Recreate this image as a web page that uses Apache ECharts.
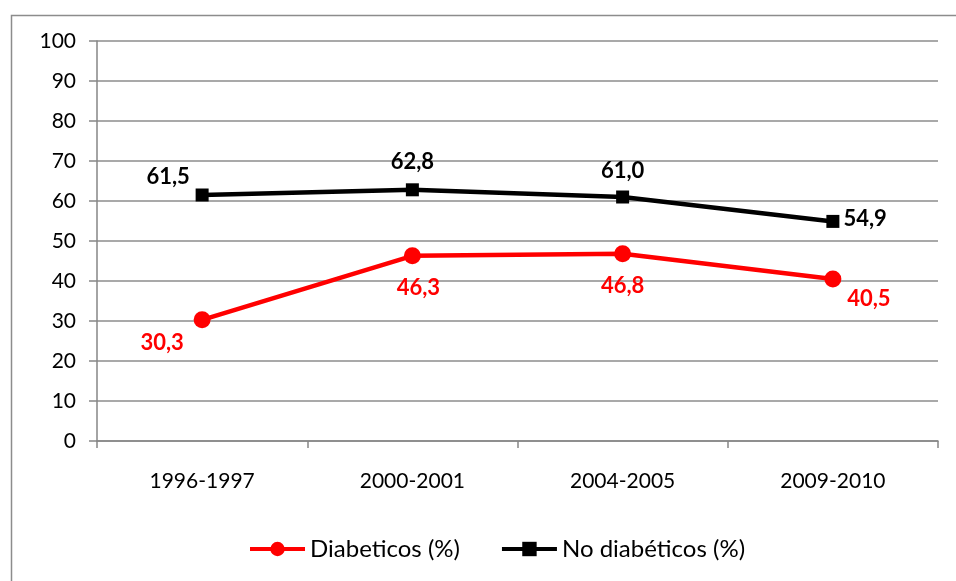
<!DOCTYPE html>
<html><head><meta charset="utf-8">
<script src="https://cdn.jsdelivr.net/npm/echarts@6/dist/echarts.min.js"></script>
<style>html,body{margin:0;padding:0;background:#fff}#c{width:956px;height:581px}</style>
</head><body><div id="c"></div>
<script>
const categories = ['1996-1997','2000-2001','2004-2005','2009-2010'];
const diabeticos = [30.3, 46.3, 46.8, 40.5];
const noDiabeticos = [61.5, 62.8, 61.0, 54.9];
const yTicks = [0,10,20,30,40,50,60,70,80,90,100];

const fmt = v => v.toFixed(1).replace('.', ',');
const redOffsets = [[-40,-1],[6,8],[0,8],[36,-5]];
const blackPos = ['top','top','top','right'];
const blackOffsets = [[-34,4],[0,-5],[0,-4],[-1,-2]];

const chart = echarts.init(document.getElementById('c'));
const FONT = 'Lato';
chart.setOption({
  animation:false,
  backgroundColor:'#fff',
  graphic:[{type:'rect',left:9,top:13,shape:{width:1200,height:1200},style:{fill:'none',stroke:'#8c8c8c',lineWidth:1.5},silent:true}],
  grid:{left:97,right:18,top:41,bottom:140},
  xAxis:{type:'category',data:categories,boundaryGap:true,
    axisLine:{lineStyle:{color:'#868686',width:1.5}},
    axisTick:{show:true,length:7,lineStyle:{color:'#868686',width:1.5}},
    axisLabel:{color:'#000',fontFamily:FONT,fontSize:21,margin:30}},
  yAxis:{type:'value',min:0,max:100,interval:10,
    axisLine:{show:true,lineStyle:{color:'#868686',width:1.5}},
    axisTick:{show:true,length:8,lineStyle:{color:'#868686',width:1.5}},
    splitLine:{lineStyle:{color:'#8c8c8c',width:1.5}},
    axisLabel:{color:'#000',fontFamily:FONT,fontSize:21,margin:21,
      formatter:v=>yTicks.includes(v)?String(v):''}},
  legend:{top:532,left:243,itemWidth:55,itemHeight:18,itemGap:40,
    lineStyle:{width:4},
    textStyle:{color:'#000',fontFamily:FONT,fontSize:24},
    data:['Diabeticos (%)','No diabéticos (%)']},
  series:[
    {name:'Diabeticos (%)',type:'line',symbol:'circle',symbolSize:17,
      itemStyle:{color:'#ff0000'},lineStyle:{color:'#ff0000',width:4.5},
      data:diabeticos.map((v,i)=>({value:v,label:{show:true,position:'bottom',offset:redOffsets[i]}})),
      label:{color:'#ff0000',fontFamily:FONT,fontWeight:'bold',fontSize:22,formatter:p=>fmt(p.value)}},
    {name:'No diabéticos (%)',type:'line',symbol:'rect',symbolSize:13,
      itemStyle:{color:'#000'},lineStyle:{color:'#000',width:4.5},
      data:noDiabeticos.map((v,i)=>({value:v,label:{show:true,position:blackPos[i],offset:blackOffsets[i]}})),
      label:{color:'#000',fontFamily:FONT,fontWeight:'bold',fontSize:22,formatter:p=>fmt(p.value)}}
  ]
});
</script></body></html>
